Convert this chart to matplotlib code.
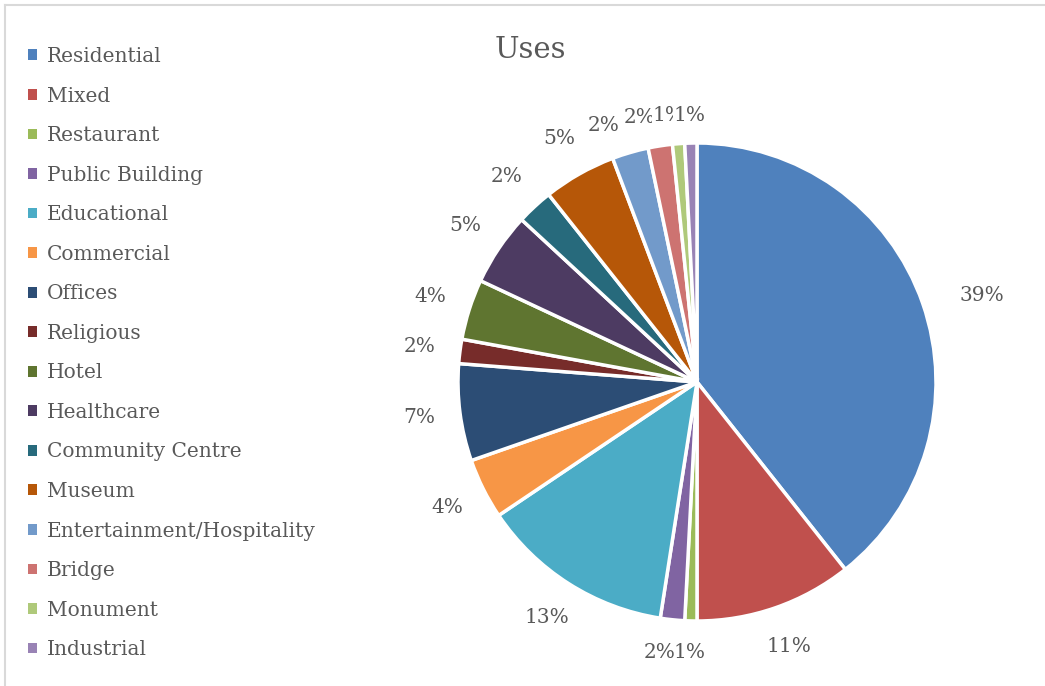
import matplotlib.pyplot as plt
from matplotlib.patches import Patch

# counts per use (Excel shows them as rounded shares)
uses = ['Residential', 'Mixed', 'Restaurant', 'Public Building', 'Educational',
        'Commercial', 'Offices', 'Religious', 'Hotel', 'Healthcare',
        'Community Centre', 'Museum', 'Entertainment/Hospitality', 'Bridge',
        'Monument', 'Industrial']
counts = [48, 13, 1, 2, 16, 5, 8, 2, 5, 6, 3, 6, 3, 2, 1, 1]
colors = ['#4F81BD', '#C0504D', '#9BBB59', '#8064A2', '#4BACC6', '#F79646',
          '#2C4D75', '#772C2A', '#5F7530', '#4D3B62', '#276A7C', '#B65708',
          '#729ACA', '#CD7371', '#AFC97A', '#9983B5']

text_col = '#595959'
plt.rcParams['font.family'] = ['DejaVu Serif']

fig = plt.figure(figsize=(10.45, 6.86), dpi=100)

# pie centred at about (697, 382) px with radius ~239 px
r_px = 239
ax = fig.add_axes([(697 - r_px) / 1045, (304 - r_px) / 686,
                   2 * r_px / 1045, 2 * r_px / 686])
wedges, _, pcts = ax.pie(counts, colors=colors, startangle=90, counterclock=False,
                         autopct=lambda p: f'{p + 1e-9:.0f}%', pctdistance=1.17,
                         wedgeprops=dict(edgecolor='white', linewidth=2.5),
                         textprops=dict(color=text_col, fontsize=14.5))
ax.set_xlim(-1, 1)
ax.set_ylim(-1, 1)
ax.set_aspect('equal')

# crowded labels: Excel stacks them, later ones hiding earlier ones
moved = {0: (1.19, 0.36), 2: (-0.03, -1.13), 3: (-0.155, -1.13),
         12: (-0.39, 1.075), 13: (-0.24, 1.105), 14: (-0.12, 1.113),
         15: (-0.03, 1.113)}
for i, t in enumerate(pcts):
    if i in moved:
        t.set_position(moved[i])
    t.set_bbox(dict(facecolor='white', edgecolor='none', pad=0.5))
    t.set_zorder(10 + i)

fig.text(530 / 1045, 1 - 50 / 686, 'Uses', ha='center', va='center',
         fontsize=21, color=text_col)

handles = [Patch(facecolor=c, edgecolor='none') for c in colors]
fig.legend(handles, uses, loc='upper left', bbox_to_anchor=(20 / 1045, 1 - 39 / 686),
           frameon=False, fontsize=14.5, labelcolor=text_col,
           handlelength=0.45, handleheight=0.45, handletextpad=0.5,
           labelspacing=1.02, borderaxespad=0)

# chart frame (top and left edges visible)
fig.add_artist(plt.Line2D([5 / 1045, 1], [1 - 5 / 686] * 2, color='#D9D9D9', lw=1.5))
fig.add_artist(plt.Line2D([5 / 1045] * 2, [0, 1 - 5 / 686], color='#D9D9D9', lw=1.5))

fig.savefig('out.png', dpi=100, facecolor='white')
